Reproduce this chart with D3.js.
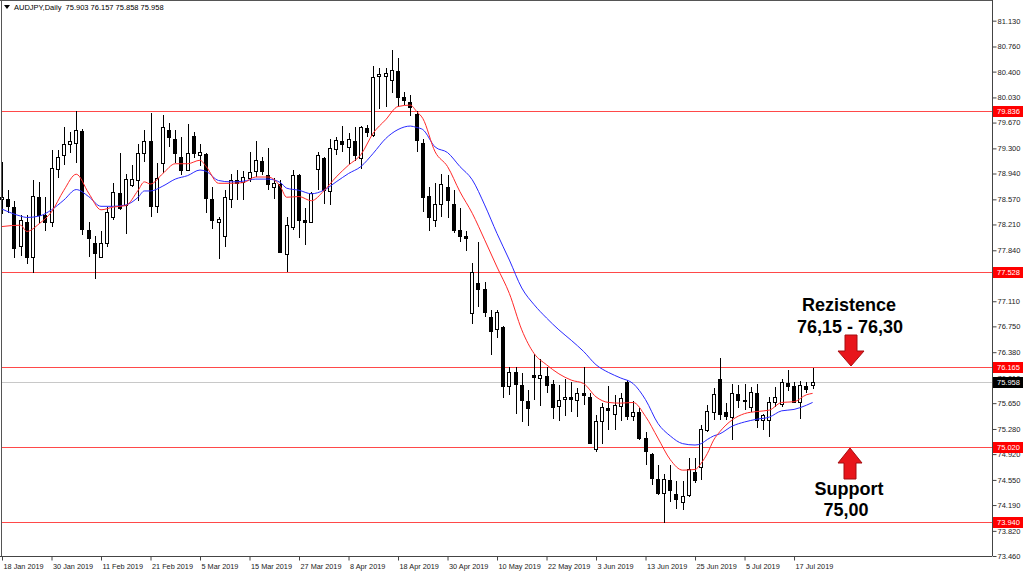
<!DOCTYPE html>
<html><head><meta charset="utf-8">
<script src="https://cdn.jsdelivr.net/npm/d3@7"></script>
<style>html,body{margin:0;padding:0;background:#fff;} svg{display:block;}</style>
</head><body><svg id="c" width="1024" height="575"></svg>
<script>
const symbolTitle = "AUDJPY,Daily  75.903 76.157 75.858 75.958";
const dateTickLabels = ["18 Jan 2019","30 Jan 2019","11 Feb 2019","21 Feb 2019","5 Mar 2019","15 Mar 2019","27 Mar 2019","8 Apr 2019","18 Apr 2019","30 Apr 2019","10 May 2019","22 May 2019","3 Jun 2019","13 Jun 2019","25 Jun 2019","5 Jul 2019","17 Jul 2019"];
const priceTicks = [81.130,80.760,80.400,80.030,79.670,79.300,78.940,78.570,78.210,77.840,77.480,77.110,76.750,76.380,76.010,75.650,75.280,74.920,74.550,74.190,73.820,73.460];
const levelLines = [79.836,77.528,76.165,75.020,73.940];
const lastPrice = 75.958;

const openP = [78.57,78.58,78.46,77.90,78.25,77.75,78.60,78.35,78.24,79.00,79.21,79.36,79.38,79.55,78.13,77.95,77.75,77.95,78.32,78.66,78.49,78.78,78.85,79.24,79.40,78.48,79.09,79.57,79.44,79.18,78.99,79.48,79.21,79.22,78.57,78.24,78.04,78.57,78.84,78.82,78.87,78.98,79.12,78.92,78.74,78.79,77.79,78.18,78.92,78.27,78.25,79.01,79.16,78.69,79.29,79.40,79.32,79.41,79.16,79.59,79.49,80.33,80.34,80.28,80.41,80.04,79.97,79.79,79.38,78.62,78.28,78.50,78.75,78.50,78.13,78.04,76.94,77.37,77.29,76.89,76.71,76.74,75.90,76.09,75.91,75.68,76.06,76.01,76.04,75.92,75.61,75.71,75.74,75.69,75.79,75.74,75.00,75.39,75.58,75.49,75.61,75.96,75.46,75.53,75.15,74.92,74.57,74.36,74.55,74.35,74.23,74.33,74.67,74.74,75.26,75.53,76.00,75.53,75.45,75.78,75.68,75.60,75.80,75.41,75.41,75.66,75.64,75.94,75.89,75.66,75.89,75.903];
const highP = [79.11,78.71,78.54,78.34,78.35,78.84,78.82,78.61,79.28,79.28,79.61,79.53,79.83,79.58,78.24,78.04,78.11,78.46,78.80,79.23,78.94,79.06,79.37,79.57,79.81,79.09,79.78,79.66,79.57,79.46,79.65,79.54,79.37,79.23,78.75,78.32,78.70,78.93,78.99,78.98,79.25,79.41,79.17,79.30,78.87,78.85,78.32,78.99,78.94,78.44,78.68,79.25,79.17,79.44,79.46,79.62,79.52,79.60,79.62,79.64,80.48,80.45,80.45,80.71,80.59,80.11,80.06,79.83,79.43,78.75,78.80,78.93,78.92,78.70,78.44,78.11,77.66,77.96,77.38,76.98,76.98,76.76,76.17,76.17,76.08,75.84,76.36,76.28,76.17,75.98,75.91,75.99,75.96,75.86,76.17,75.79,75.48,75.65,75.89,75.77,75.79,75.98,75.68,75.58,75.24,74.93,74.76,74.64,74.76,74.53,74.53,74.86,74.86,75.34,75.62,75.86,76.29,75.65,75.93,75.91,75.93,75.88,75.93,75.50,75.74,75.88,76.00,76.12,75.96,75.97,75.95,76.157];
const lowP = [78.36,78.37,77.73,77.76,77.64,77.51,78.23,78.11,78.18,78.87,79.06,79.23,79.09,78.06,77.75,77.43,77.73,77.89,78.27,78.42,78.08,78.75,78.55,79.11,78.32,78.37,78.95,79.32,79.09,78.92,78.97,79.16,79.05,78.38,78.14,77.71,77.89,78.44,78.56,78.56,78.82,78.89,78.92,78.71,78.58,77.80,77.53,78.13,78.01,77.91,78.24,78.70,78.51,78.49,79.21,79.25,79.08,79.12,79.01,79.47,79.47,79.87,79.90,80.10,79.90,79.92,79.76,79.25,78.39,78.11,78.17,78.32,78.30,78.09,77.96,77.83,76.78,77.03,76.89,76.34,76.58,75.72,75.77,75.50,75.38,75.32,75.70,75.61,75.80,75.43,75.39,75.46,75.53,75.45,75.62,75.07,74.95,75.06,75.27,75.26,75.39,75.41,75.39,75.12,74.76,74.48,74.33,73.93,74.24,74.14,74.12,74.30,74.50,74.55,75.23,75.41,75.41,75.41,75.12,75.58,75.55,75.53,75.29,75.27,75.17,75.60,75.60,75.82,75.65,75.43,75.79,75.858];
const closeP = [78.61,78.48,77.87,78.27,77.75,78.62,78.35,78.25,79.02,79.18,79.37,79.41,79.56,78.15,78.01,77.80,77.95,78.39,78.67,78.44,78.86,78.86,79.23,79.40,78.48,78.87,79.60,79.47,79.24,78.99,79.24,79.24,79.25,78.59,78.27,78.29,78.61,78.85,78.81,78.89,78.96,79.13,78.98,78.79,78.80,77.81,78.20,78.92,78.27,78.25,78.66,79.21,78.70,79.30,79.42,79.36,79.44,79.20,79.60,79.53,80.32,80.36,80.38,80.42,80.03,80.00,79.90,79.42,78.61,78.32,78.51,78.79,78.56,78.13,78.04,78.02,77.53,77.28,76.95,76.69,76.95,75.89,76.10,75.92,75.70,75.58,76.02,76.06,75.91,75.60,75.70,75.74,75.71,75.80,75.76,75.08,75.39,75.59,75.55,75.62,75.72,75.47,75.53,75.15,74.96,74.58,74.36,74.57,74.41,74.27,74.32,74.70,74.55,75.28,75.54,75.78,75.50,75.47,75.79,75.70,75.69,75.81,75.41,75.48,75.67,75.74,75.95,75.89,75.66,75.91,75.85,75.958];

const maBars = [0,3,4,6,8,10,12,14,16,18,20,22,23,24,26,28,30,32,33,35,37,39,41,43,45,46,48,50,52,54,56,58,60,62,64,66,67,68,70,72,74,76,78,80,82,84,86,88,90,92,94,96,98,100,102,104,106,108,110,112,113,114,115,116,118,120,122,124,126,128,130,131];
const maRed = [78.18,78.20,78.11,78.22,78.39,78.70,78.93,78.66,78.42,78.46,78.48,78.70,78.82,78.79,78.94,79.08,79.08,79.13,79.04,78.80,78.80,78.81,78.89,78.89,78.75,78.60,78.61,78.55,78.69,78.89,79.06,79.21,79.52,79.71,79.90,79.92,79.83,79.73,79.25,79.04,78.68,78.37,77.99,77.60,77.22,76.70,76.36,76.20,76.07,75.98,75.93,75.74,75.66,75.65,75.66,75.46,75.15,74.84,74.69,74.70,74.79,74.93,75.12,75.24,75.41,75.50,75.53,75.55,75.66,75.67,75.77,75.79];
const maBlue = [78.43,78.33,78.31,78.33,78.42,78.56,78.71,78.61,78.47,78.47,78.49,78.60,78.69,78.69,78.76,78.86,78.91,78.99,78.97,78.84,78.82,78.83,78.86,78.86,78.81,78.73,78.70,78.65,78.70,78.82,78.94,79.04,79.23,79.44,79.57,79.62,79.60,79.57,79.32,79.24,79.04,78.85,78.49,78.08,77.70,77.30,77.06,76.87,76.70,76.55,76.39,76.20,76.09,76.01,75.93,75.70,75.36,75.18,75.07,75.05,75.07,75.13,75.18,75.21,75.32,75.38,75.42,75.45,75.54,75.56,75.62,75.66];

const svg = d3.select("#c");
const plotRight = 992, plotBottom = 556;
const x = d3.scaleLinear().domain([0, 131]).range([2, 812.6]);
const y = d3.scaleLinear().domain([73.46, 81.426]).range([plotBottom, 0]);
const AX_FONT = "'Liberation Sans', Arial, sans-serif";

svg.append("rect").attr("width",1024).attr("height",575).attr("fill","#fff");

// level lines
svg.selectAll("line.lvl").data(levelLines).enter().append("line")
  .attr("x1",1).attr("x2",plotRight)
  .attr("y1",d=>Math.round(y(d))+0.5).attr("y2",d=>Math.round(y(d))+0.5)
  .attr("stroke","#ff2a2a").attr("stroke-width",1).attr("opacity",0.85);
// bid line
svg.append("line").attr("x1",1).attr("x2",plotRight)
  .attr("y1",Math.round(y(lastPrice))+0.5).attr("y2",Math.round(y(lastPrice))+0.5)
  .attr("stroke","#c8c8c8").attr("stroke-width",1);

// candles
const idx = d3.range(openP.length);
const g = svg.append("g").attr("shape-rendering","crispEdges");
idx.forEach(i=>{
  const cx = Math.round(x(i));
  g.append("line").attr("x1",cx+0.5).attr("x2",cx+0.5)
    .attr("y1",y(highP[i])).attr("y2",y(lowP[i]))
    .attr("stroke","#000").attr("stroke-width",1);
  const top = Math.round(y(Math.max(openP[i],closeP[i])));
  const bot = Math.round(y(Math.min(openP[i],closeP[i])));
  const bull = closeP[i] >= openP[i];
  g.append("rect").attr("x",cx-1.5).attr("y",top+0.5)
    .attr("width",3).attr("height",Math.max(bot-top,1))
    .attr("fill", bull ? "#fff" : "#000").attr("stroke","#000").attr("stroke-width",1);
});

// moving averages
const lineGen = d3.line().x(d=>x(d[0])).y(d=>y(d[1])).curve(d3.curveMonotoneX);
svg.append("path").attr("d",lineGen(maBars.map((b,k)=>[b,maBlue[k]])))
  .attr("fill","none").attr("stroke","#2a2aff").attr("stroke-width",1);
svg.append("path").attr("d",lineGen(maBars.map((b,k)=>[b,maRed[k]])))
  .attr("fill","none").attr("stroke","#ff2a2a").attr("stroke-width",1);

// frame
svg.append("line").attr("x1",0).attr("x2",plotRight).attr("y1",0.5).attr("y2",0.5).attr("stroke","#555");
svg.append("line").attr("x1",1.5).attr("x2",1.5).attr("y1",0).attr("y2",plotBottom).attr("stroke","#555");

// right axis
const yAxis = d3.axisRight(y).tickValues(priceTicks).tickSize(4).tickFormat(d3.format(".3f"));
const ya = svg.append("g").attr("transform",`translate(${plotRight+0.5},0)`).call(yAxis);
ya.select(".domain").attr("stroke","#444").attr("d",`M0,0V${plotBottom}`);
ya.selectAll(".tick line").attr("stroke","#444");
ya.selectAll(".tick text").attr("x",5).attr("font-family",AX_FONT).attr("font-size","7.5px").attr("fill","#222");

// bottom axis
const xAxis = d3.axisBottom(x).tickValues(dateTickLabels.map((d,k)=>k*8)).tickSize(4).tickFormat((d,k)=>dateTickLabels[k]);
const xa = svg.append("g").attr("transform",`translate(0,${plotBottom+0.5})`).call(xAxis);
xa.select(".domain").attr("stroke","#444").attr("d",`M0,0H${plotRight}`);
xa.selectAll(".tick line").attr("stroke","#444");
xa.selectAll(".tick text").attr("text-anchor","start").attr("x",1).attr("y",7)
  .attr("font-family",AX_FONT).attr("font-size","7.3px").attr("fill","#222");

// price labels
function priceTag(v, bg){
  const yy = Math.round(y(v));
  svg.append("rect").attr("x",plotRight+1).attr("y",yy-5).attr("width",30).attr("height",11).attr("fill",bg);
  svg.append("text").attr("x",plotRight+5).attr("y",yy+3).attr("font-family",AX_FONT)
    .attr("font-size","7.5px").attr("fill","#fff").text(v.toFixed(3));
}
levelLines.forEach(v=>priceTag(v,"#ff0000"));
priceTag(lastPrice,"#000");

// title
svg.append("path").attr("d","M4,5 L10,5 L7,9 Z").attr("fill","#000");
svg.append("text").attr("x",14).attr("y",10).attr("font-family",AX_FONT).attr("font-size","7.5px")
  .attr("fill","#000").attr("xml:space","preserve").text(symbolTitle);

// annotations
const ANN = "'Liberation Sans', Arial, sans-serif";
function ann(txt, cx, by){
  svg.append("text").attr("x",cx).attr("y",by).attr("text-anchor","middle")
    .attr("font-family",ANN).attr("font-weight","bold").attr("font-size","18px").attr("fill","#000").text(txt);
}
ann("Rezistence", 849, 311);
ann("76,15 - 76,30", 850, 333);
ann("Support", 849, 495);
ann("75,00", 846, 516);

// arrows
svg.append("path").attr("d","M845,335 H857 V351 H864 L851,366 L838,351 H845 Z")
  .attr("fill","#e8151b").attr("stroke","#a50d10").attr("stroke-width",1);
svg.append("path").attr("d","M850,448 L862,463 H856 V479 H844 V463 H838 Z")
  .attr("fill","#e8151b").attr("stroke","#a50d10").attr("stroke-width",1);
</script>
</body></html>
